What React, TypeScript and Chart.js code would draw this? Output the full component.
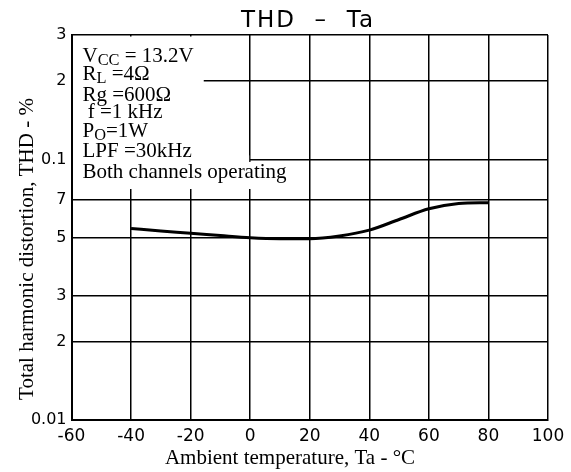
import React, { useEffect, useRef } from 'react';
import { Chart, registerables } from 'chart.js';

Chart.register(...registerables);

const temperatures = [-40, -30, -20, -10, 0, 10, 20, 30, 40, 50, 60, 70, 80];
const thdValues = [0.0543, 0.0531, 0.0521, 0.051, 0.05, 0.0496, 0.0496, 0.0508, 0.0535, 0.0588, 0.0646, 0.0677, 0.0682];

const xTicks = [-60, -40, -20, 0, 20, 40, 60, 80, 100];
const yTicks = [0.01, 0.02, 0.03, 0.05, 0.07, 0.1, 0.2, 0.3];
const yTickLabels = ['0.01', '2', '3', '5', '7', '0.1', '2', '3'];

const chartTitle = 'THD  –  Ta';
const xTitle = 'Ambient temperature, Ta - °C';
const yTitle = 'Total harmonic distortion, THD - %';

type Run = { t: string; sub?: boolean };
const conditionLines: Run[][] = [
  [{ t: 'V' }, { t: 'CC', sub: true }, { t: ' = 13.2V' }],
  [{ t: 'R' }, { t: 'L', sub: true }, { t: ' =4Ω' }],
  [{ t: 'Rg =600Ω' }],
  [{ t: ' f =1 kHz' }],
  [{ t: 'P' }, { t: 'O', sub: true }, { t: '=1W' }],
  [{ t: 'LPF =30kHz' }],
  [{ t: 'Both channels operating' }],
];

const SERIF = '"Liberation Serif", "Times New Roman", serif';
const SANS = '"DejaVu Sans", sans-serif';

function drawRuns(ctx: CanvasRenderingContext2D, runs: Run[], x: number, y: number, size: number, draw: boolean) {
  let cx = x;
  for (const r of runs) {
    const s = r.sub ? size * 0.78 : size;
    ctx.font = `${s}px ${SERIF}`;
    if (draw) ctx.fillText(r.t, cx, r.sub ? y + size * 0.12 : y);
    cx += ctx.measureText(r.t).width;
  }
  return cx - x;
}

const annotationPlugin = {
  id: 'annot',
  beforeDatasetsDraw(chart: any) {
    const ctx = chart.ctx as CanvasRenderingContext2D;
    const a = chart.chartArea;
    const size = 21;
    const baseOffsets = [27, 45, 66, 83, 102, 122, 143];
    const left = a.left + 11;
    ctx.save();
    ctx.textBaseline = 'alphabetic';
    let maxW = 0;
    for (let i = 0; i < 6; i++) maxW = Math.max(maxW, drawRuns(ctx, conditionLines[i], left, 0, size, false));
    const lastW = drawRuns(ctx, conditionLines[6], left, 0, size, false);
    ctx.fillStyle = '#fff';
    const y01 = chart.scales.y.getPixelForValue(0.1);
    const x0 = chart.scales.x.getPixelForValue(0);
    ctx.fillRect(a.left + 1.5, a.top + 1.5, left + maxW + 10 - (a.left + 1.5), a.top + 127 - (a.top + 1.5));
    ctx.fillRect(a.left + 1.5, y01 - 4, x0 - 1 - (a.left + 1.5), 10);
    ctx.fillRect(a.left + 1.5, a.top + 127, left + lastW + 4 - (a.left + 1.5), 27);
    ctx.fillStyle = '#000';
    conditionLines.forEach((runs, i) => {
      drawRuns(ctx, runs, left, a.top + baseOffsets[i], size, true);
    });
    ctx.restore();
  },
  afterDraw(chart: any) {
    const ctx = chart.ctx as CanvasRenderingContext2D;
    ctx.save();
    ctx.fillStyle = '#000';
    ctx.textAlign = 'center';
    ctx.textBaseline = 'middle';
    ctx.font = `23px ${SANS}`;
    (ctx as any).letterSpacing = '2px';
    ctx.fillText(chartTitle, 308, 21);
    (ctx as any).letterSpacing = '0px';
    ctx.font = `21px ${SERIF}`;
    ctx.fillText(xTitle, 290, 458);
    ctx.translate(27, 249);
    ctx.rotate(-Math.PI / 2);
    ctx.fillText(yTitle, 0, 0);
    ctx.restore();
  },
};

export default function App() {
  const ref = useRef<HTMLCanvasElement>(null);
  useEffect(() => {
    document.body.style.margin = '0';
    const chart = new Chart(ref.current!, {
      type: 'line',
      data: {
        datasets: [
          {
            data: temperatures.map((t, i) => ({ x: t, y: thdValues[i] })),
            borderColor: '#000',
            borderWidth: 3,
            pointRadius: 0,
            fill: false,
            cubicInterpolationMode: 'monotone',
          },
        ],
      },
      options: {
        animation: false,
        responsive: false,
        devicePixelRatio: 1,
        layout: { padding: { left: 0, top: 35, right: 23, bottom: 0 } },
        plugins: { legend: { display: false }, tooltip: { enabled: false }, title: { display: false } },
        scales: {
          x: {
            type: 'linear',
            min: -60,
            max: 100,
            afterBuildTicks: (s: any) => {
              s.ticks = xTicks.map((v) => ({ value: v }));
            },
            afterFit: (s: any) => {
              s.height = 52;
            },
            grid: { color: '#000', lineWidth: 1.5, drawTicks: false },
            border: { color: '#000', width: 2 },
            ticks: { color: '#000', font: { family: SANS, size: 17 }, padding: 6, maxRotation: 0, autoSkip: false },
          },
          y: {
            type: 'logarithmic',
            min: 0.01,
            max: 0.3,
            afterBuildTicks: (s: any) => {
              s.ticks = yTicks.map((v) => ({ value: v }));
            },
            afterFit: (s: any) => {
              s.width = 71.5;
            },
            grid: { color: '#000', lineWidth: 1.5, drawTicks: false },
            border: { color: '#000', width: 2 },
            ticks: {
              color: '#000',
              font: { family: SANS, size: 16 },
              padding: 5,
              autoSkip: false,
              callback: (v: any) => {
                const i = yTicks.findIndex((t) => Math.abs(t - Number(v)) < 1e-9);
                return i >= 0 ? yTickLabels[i] : '';
              },
            },
          },
        },
      },
      plugins: [annotationPlugin],
    } as any);
    return () => chart.destroy();
  }, []);
  return <canvas ref={ref} width={571} height={472} style={{ display: 'block' }} />;
}
